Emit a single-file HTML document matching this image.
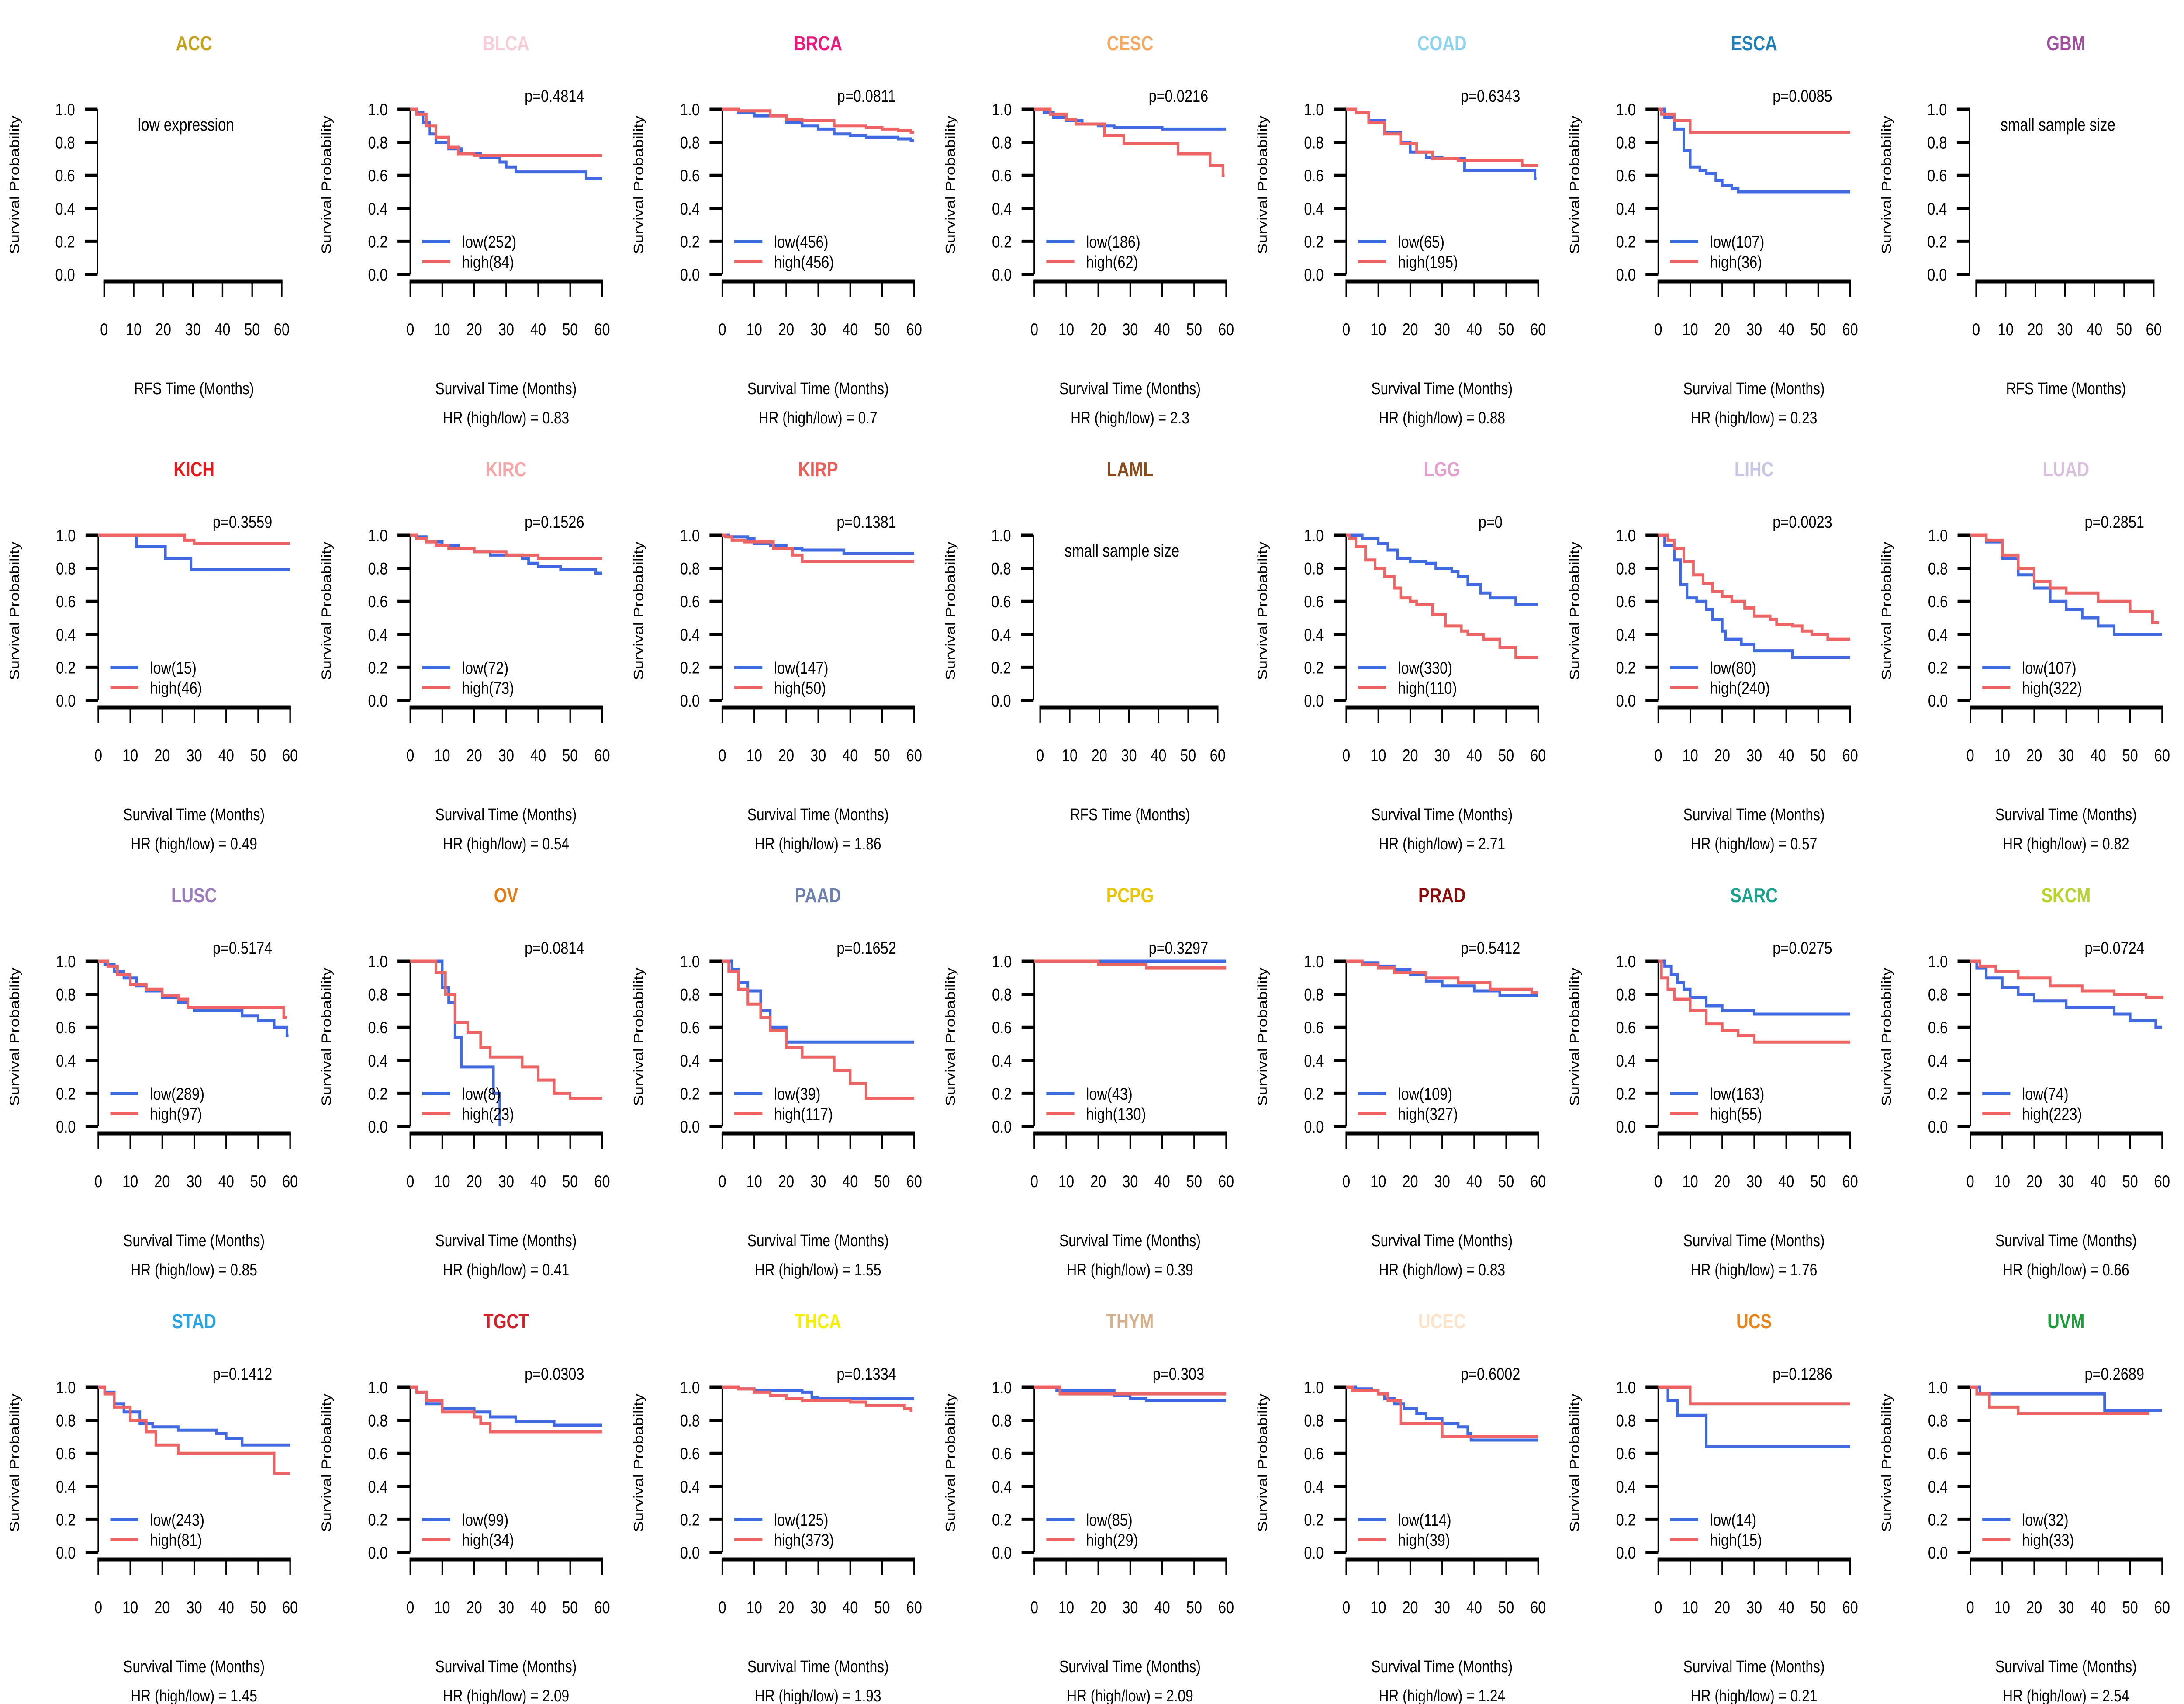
<!DOCTYPE html>
<html><head><meta charset="utf-8"><style>
html,body{margin:0;padding:0;background:#fff;overflow:hidden;width:100%;height:100%}
svg{display:block;width:100vw;height:100vh}
text{font-family:"Liberation Sans",sans-serif}
</style></head><body>
<svg id="chart" xmlns="http://www.w3.org/2000/svg" viewBox="0 0 6000 3900" preserveAspectRatio="none"></svg>
<script>
const cancers=["ACC","BLCA","BRCA","CESC","COAD","ESCA","GBM","KICH","KIRC","KIRP","LAML","LGG","LIHC","LUAD","LUSC","OV","PAAD","PCPG","PRAD","SARC","SKCM","STAD","TGCT","THCA","THYM","UCEC","UCS","UVM"];
const titleColors=["#c4a21d","#f7ccd6","#e8197b","#f4a862","#8dd3f0","#1f7fb8","#a24ea0","#e41a1c","#f4a6a8","#e8605a","#8b4a1a","#e3a0cf","#c8c6e6","#d8bfdc","#9a7bc0","#e47a10","#6b7fb0","#e9c400","#8b0a0a","#1aa28f","#b8d32a","#2aa3e0","#d0202a","#f5f000","#d2b08c","#fce3c8","#e8841a","#1a9e3a"];
const emptyMsg={ACC:"low expression",GBM:"small sample size",LAML:"small sample size"};
const pValues={BLCA:"p=0.4814",BRCA:"p=0.0811",CESC:"p=0.0216",COAD:"p=0.6343",ESCA:"p=0.0085",KICH:"p=0.3559",KIRC:"p=0.1526",KIRP:"p=0.1381",LGG:"p=0",LIHC:"p=0.0023",LUAD:"p=0.2851",LUSC:"p=0.5174",OV:"p=0.0814",PAAD:"p=0.1652",PCPG:"p=0.3297",PRAD:"p=0.5412",SARC:"p=0.0275",SKCM:"p=0.0724",STAD:"p=0.1412",TGCT:"p=0.0303",THCA:"p=0.1334",THYM:"p=0.303",UCEC:"p=0.6002",UCS:"p=0.1286",UVM:"p=0.2689"};
const hrValues={BLCA:"0.83",BRCA:"0.7",CESC:"2.3",COAD:"0.88",ESCA:"0.23",KICH:"0.49",KIRC:"0.54",KIRP:"1.86",LGG:"2.71",LIHC:"0.57",LUAD:"0.82",LUSC:"0.85",OV:"0.41",PAAD:"1.55",PCPG:"0.39",PRAD:"0.83",SARC:"1.76",SKCM:"0.66",STAD:"1.45",TGCT:"2.09",THCA:"1.93",THYM:"2.09",UCEC:"1.24",UCS:"0.21",UVM:"2.54"};
const lowN={BLCA:252,BRCA:456,CESC:186,COAD:65,ESCA:107,KICH:15,KIRC:72,KIRP:147,LGG:330,LIHC:80,LUAD:107,LUSC:289,OV:8,PAAD:39,PCPG:43,PRAD:109,SARC:163,SKCM:74,STAD:243,TGCT:99,THCA:125,THYM:85,UCEC:114,UCS:14,UVM:32};
const highN={BLCA:84,BRCA:456,CESC:62,COAD:195,ESCA:36,KICH:46,KIRC:73,KIRP:50,LGG:110,LIHC:240,LUAD:322,LUSC:97,OV:23,PAAD:117,PCPG:130,PRAD:327,SARC:55,SKCM:223,STAD:81,TGCT:34,THCA:373,THYM:29,UCEC:39,UCS:15,UVM:33};
const lowCurves={
BLCA:[[2,.98],[4,.92],[6,.85],[8,.8],[12,.76],[16,.73],[22,.71],[28,.68],[30,.65],[33,.62],[55,.58],[60,.58]],
BRCA:[[5,.98],[10,.96],[20,.92],[25,.9],[30,.88],[35,.85],[40,.84],[45,.83],[55,.82],[59,.81],[60,.81]],
CESC:[[3,.98],[6,.95],[10,.93],[15,.91],[20,.9],[25,.89],[40,.88],[60,.88]],
COAD:[[3,.98],[7,.93],[12,.86],[17,.8],[20,.74],[25,.71],[30,.7],[37,.63],[59,.58],[59.5,.58]],
ESCA:[[2,.95],[5,.88],[8,.75],[10,.65],[13,.63],[15,.61],[18,.57],[20,.54],[23,.52],[25,.5],[60,.5]],
KICH:[[12,.93],[21,.86],[29,.79],[60,.79]],
KIRC:[[2,.99],[5,.96],[10,.94],[15,.92],[20,.9],[25,.88],[35,.86],[37,.83],[40,.81],[47,.79],[58,.77],[60,.77]],
KIRP:[[2,.99],[8,.98],[10,.95],[15,.94],[20,.92],[25,.91],[38,.89],[60,.89]],
LGG:[[5,.98],[10,.95],[13,.91],[16,.86],[20,.84],[25,.83],[28,.8],[33,.78],[35,.75],[38,.7],[42,.65],[45,.62],[53,.58],[60,.58]],
LIHC:[[2,.94],[5,.85],[7,.7],[9,.62],[12,.6],[15,.55],[17,.49],[20,.42],[21,.37],[26,.34],[30,.3],[42,.26],[60,.26]],
LUAD:[[5,.96],[10,.86],[15,.76],[20,.68],[25,.6],[30,.55],[35,.5],[40,.45],[45,.4],[60,.4]],
LUSC:[[2,.98],[5,.94],[8,.9],[12,.85],[15,.82],[20,.78],[25,.75],[28,.72],[30,.7],[45,.67],[50,.64],[55,.6],[59,.55],[59.5,.55]],
OV:[[10,.84],[12,.75],[14,.54],[16,.36],[26,.2],[28,0],[28,0]],
PAAD:[[3,.95],[5,.87],[8,.82],[12,.7],[15,.6],[20,.51],[60,.51]],
PCPG:[[60,1]],
PRAD:[[5,.99],[10,.97],[15,.95],[20,.92],[25,.88],[30,.85],[40,.82],[48,.79],[60,.79]],
SARC:[[2,.97],[4,.92],[6,.87],[8,.83],[10,.78],[15,.73],[20,.7],[30,.68],[60,.68]],
SKCM:[[2,.96],[5,.9],[10,.84],[15,.8],[20,.76],[30,.72],[45,.68],[50,.64],[58,.6],[60,.6]],
STAD:[[2,.97],[5,.9],[8,.85],[13,.78],[17,.76],[25,.74],[37,.72],[40,.69],[45,.65],[60,.65]],
TGCT:[[2,.97],[5,.9],[10,.87],[20,.85],[25,.82],[33,.79],[45,.77],[60,.77]],
THCA:[[5,.99],[10,.98],[25,.97],[28,.94],[30,.93],[60,.93]],
THYM:[[7,.98],[25,.95],[30,.93],[35,.92],[60,.92]],
UCEC:[[3,.99],[8,.98],[10,.96],[12,.93],[15,.9],[18,.87],[22,.84],[25,.81],[30,.78],[35,.76],[38,.72],[39,.68],[60,.68]],
UCS:[[3,.92],[6,.83],[15,.64],[60,.64]],
UVM:[[3,.96],[42,.86],[60,.86]]
};
const highCurves={
BLCA:[[2,.97],[5,.9],[8,.83],[12,.77],[15,.73],[20,.72],[60,.72]],
BRCA:[[5,.99],[15,.96],[20,.94],[25,.93],[35,.9],[45,.89],[50,.88],[55,.87],[59,.86],[60,.86]],
CESC:[[5,.97],[10,.94],[13,.91],[22,.84],[28,.79],[45,.73],[55,.66],[59,.6],[59.5,.6]],
COAD:[[3,.98],[7,.92],[12,.85],[17,.79],[22,.74],[27,.7],[35,.69],[55,.66],[60,.66]],
ESCA:[[1,.97],[5,.93],[10,.86],[60,.86]],
KICH:[[27,.97],[30,.95],[60,.95]],
KIRC:[[2,.98],[5,.96],[8,.94],[12,.92],[20,.9],[30,.88],[40,.86],[60,.86]],
KIRP:[[1,.99],[3,.97],[7,.96],[16,.92],[22,.88],[25,.84],[60,.84]],
LGG:[[1,.98],[3,.93],[6,.85],[9,.8],[12,.75],[15,.68],[17,.62],[20,.6],[22,.58],[27,.52],[31,.45],[36,.42],[38,.4],[43,.37],[48,.32],[53,.26],[60,.26]],
LIHC:[[3,.97],[5,.92],[8,.84],[11,.76],[14,.71],[17,.66],[20,.63],[23,.6],[27,.56],[30,.51],[35,.49],[37,.46],[42,.45],[45,.42],[48,.4],[53,.37],[60,.37]],
LUAD:[[5,.97],[10,.88],[15,.8],[20,.72],[25,.68],[30,.65],[40,.6],[50,.54],[57,.47],[59,.47]],
LUSC:[[3,.97],[6,.92],[10,.86],[15,.83],[20,.79],[25,.77],[28,.72],[58,.66],[59,.66]],
OV:[[8,.93],[11,.8],[14,.63],[18,.57],[22,.48],[25,.42],[35,.36],[40,.28],[45,.2],[50,.17],[60,.17]],
PAAD:[[2,.94],[5,.83],[8,.74],[12,.66],[15,.58],[20,.48],[25,.42],[35,.34],[40,.26],[45,.17],[60,.17]],
PCPG:[[20,.98],[35,.96],[60,.96]],
PRAD:[[5,.98],[10,.96],[15,.93],[25,.9],[35,.87],[45,.83],[58,.81],[60,.81]],
SARC:[[1,.9],[3,.83],[5,.77],[10,.7],[15,.62],[20,.58],[25,.55],[30,.51],[60,.51]],
SKCM:[[3,.97],[8,.94],[15,.9],[25,.85],[35,.82],[45,.8],[55,.78],[60,.77]],
STAD:[[2,.96],[5,.88],[10,.8],[15,.73],[18,.65],[25,.6],[55,.48],[60,.48]],
TGCT:[[2,.97],[5,.92],[10,.85],[20,.82],[22,.78],[25,.73],[60,.73]],
THCA:[[5,.99],[10,.97],[15,.95],[20,.93],[25,.92],[40,.91],[45,.89],[57,.87],[59,.86],[59.5,.86]],
THYM:[[8,.96],[60,.96]],
UCEC:[[2,.98],[10,.96],[13,.92],[17,.78],[30,.7],[60,.7]],
UCS:[[10,.9],[60,.9]],
UVM:[[2,.96],[6,.88],[15,.84],[56,.84]]
};
const yTicks=["0.0","0.2","0.4","0.6","0.8","1.0"];
const xTicks=["0","10","20","30","40","50","60"];

const NS="http://www.w3.org/2000/svg";
const svg=document.getElementById("chart");
function mk(tag,attrs,parent){const e=document.createElementNS(NS,tag);for(const k in attrs)e.setAttribute(k,attrs[k]);(parent||svg).appendChild(e);return e;}
const PW=6000/7, PH=975;
const BLUE="#4169e1", RED="#ee6363";

cancers.forEach((c,i)=>{
  const col=i%7,row=Math.floor(i/7);
  const px=col*PW, py=row*PH;
  const g=mk("g",{});
  
  
  const empty=!!emptyMsg[c];
  const ax=px+(empty?268:270);
  const xa0=px+(empty?286:270), xa1=px+(empty?774:797);
  const yS=v=>py+628-v*378;
  const xS=t=>xa0+(t/60)*(xa1-xa0);
  const t=mk("text",{x:px+533,y:py+115,"text-anchor":"middle","font-size":46,"font-weight":"bold",fill:titleColors[i]},g);
  t.textContent=c;
  
  
  const yl=mk("text",{x:0,y:0,"text-anchor":"middle","font-size":37,fill:"#000",transform:`translate(${px+52},${py+423}) rotate(-90)`,textLength:317,lengthAdjust:"spacingAndGlyphs"},g);
  yl.textContent="Survival Probability";
  
  
  mk("line",{x1:ax,x2:ax,y1:yS(0),y2:yS(1),stroke:"#000","stroke-width":4},g);
  yTicks.forEach(v=>{
    const y=yS(+v);
    mk("line",{x1:ax-35,x2:ax,y1:y,y2:y,stroke:"#000","stroke-width":7},g);
    const tl=mk("text",{x:ax-62,y:y+14,"text-anchor":"end","font-size":39,fill:"#000"},g);
    tl.textContent=v;
    
    
  });
  mk("line",{x1:xa0-2,x2:xa1+2,y1:py+644,y2:py+644,stroke:"#000","stroke-width":9},g);
  xTicks.forEach(v=>{
    const x=xS(+v);
    mk("line",{x1:x,x2:x,y1:py+644,y2:py+679,stroke:"#000","stroke-width":4},g);
    const tl=mk("text",{x:x,y:py+767,"text-anchor":"middle","font-size":39,fill:"#000"},g);
    tl.textContent=v;
    
    
  });
  const xl=mk("text",{x:px+533,y:py+902,"text-anchor":"middle","font-size":38,fill:"#000"},g);
  xl.textContent=empty?"RFS Time (Months)":"Survival Time (Months)";
  
  
  if(empty){
    const m=mk("text",{x:px+511,y:py+299,"text-anchor":"middle","font-size":40,fill:"#000"},g);
    m.textContent=emptyMsg[c];
    
    
    return;
  }
  const hr=mk("text",{x:px+533,y:py+969,"text-anchor":"middle","font-size":38,fill:"#000","xml:space":"preserve"},g);
  hr.textContent="HR (high/low) =  "+hrValues[c];
  
  
  const p=mk("text",{x:px+666,y:py+233,"text-anchor":"middle","font-size":39,fill:"#000"},g);
  p.textContent=pValues[c];
  
  
  [[lowCurves[c],BLUE,'low-curve'],[highCurves[c],RED,'high-curve']].forEach(([pts,colr,nm])=>{
    let d=`M${xS(0)},${yS(1)}`;
    pts.forEach(([tm,s])=>{d+=` H${xS(tm)} V${yS(s)}`;});
    const path=mk("path",{d:d,fill:"none",stroke:colr,"stroke-width":7},g);
    
    
  });
  [[lowN,BLUE,"low",553],[highN,RED,"high",599]].forEach(([nmap,colr,lab,yy])=>{
    const lg=mk("g",{},g);
    
    
    mk("line",{x1:px+303,x2:px+380,y1:py+yy,y2:py+yy,stroke:colr,"stroke-width":8},lg);
    const lt=mk("text",{x:px+412,y:py+yy+14,"font-size":39,fill:"#000"},lg);
    lt.textContent=lab+"("+nmap[c]+")";
  });
});
</script>
</body></html>
